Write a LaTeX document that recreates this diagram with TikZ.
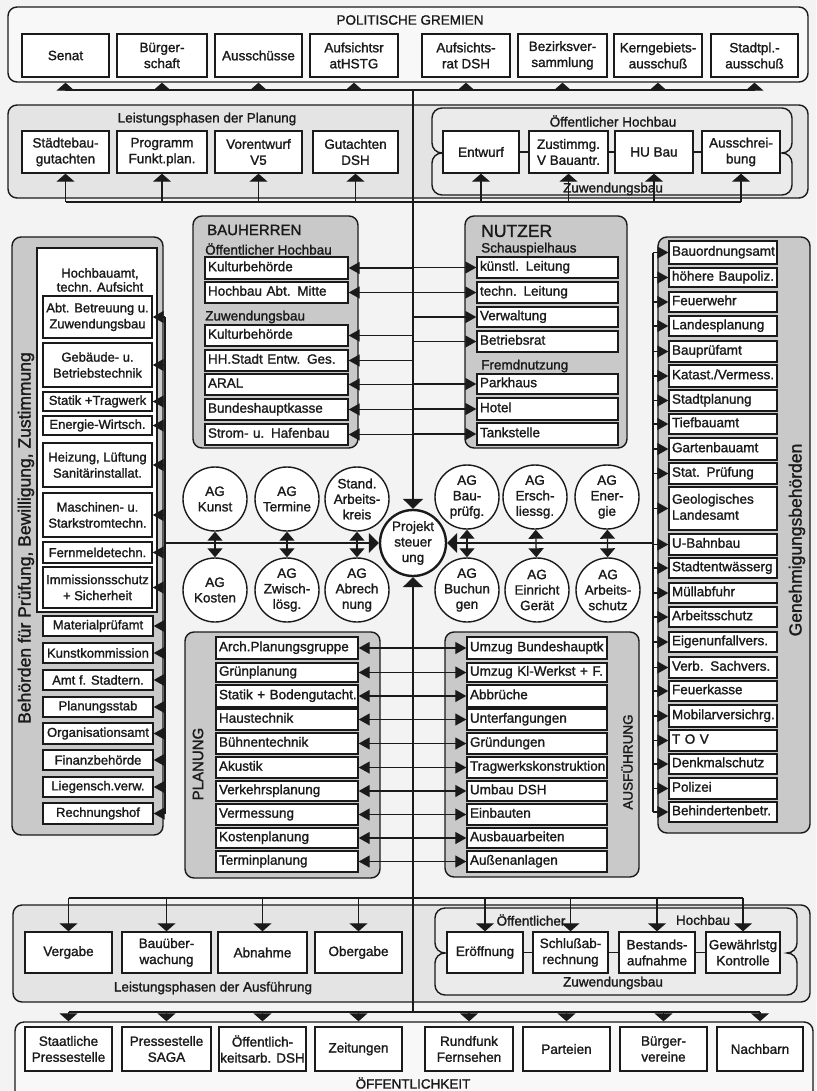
\documentclass[tikz,border=0pt]{standalone}
\usepackage{fontspec}
\setmainfont{Liberation Sans}[FakeBold=1.4]
\usetikzlibrary{arrows.meta}

\definecolor{ink}{HTML}{1A1A1A}
\definecolor{pagebg}{HTML}{F3F3F3}
\definecolor{band}{HTML}{E4E4E4}
\definecolor{innerband}{HTML}{EBEBEB}
\definecolor{shade}{HTML}{C9C9C9}

\newcommand\boxfont{\fontsize{13.5}{16}\selectfont}
\newcommand\colfont{\fontsize{13}{16}\selectfont}
\newcommand\circfont{\fontsize{13.5}{15.5}\selectfont}

% centred box by corners: [options]{name}{x1}{y1}{x2}{y2}{text}
\newcommand\bx[7][]{%
  \pgfmathsetmacro\bxx{(#3+#5)/2}%
  \pgfmathsetmacro\bxy{(#4+#6)/2}%
  \pgfmathsetmacro\bxw{#5-#3}%
  \pgfmathsetmacro\bxh{#6-#4}%
  \node[box,minimum width=\bxw pt,minimum height=\bxh pt,#1] (#2) at (\bxx,\bxy) {#7};}

% left-aligned list entry by corners: [options]{name}{x1}{y1}{x2}{y2}{text}
\newcommand\lbx[7][]{%
  \pgfmathsetmacro\bxx{(#3+#5)/2}%
  \pgfmathsetmacro\bxy{(#4+#6)/2}%
  \pgfmathsetmacro\bxw{#5-#3}%
  \pgfmathsetmacro\bxh{#6-#4}%
  \pgfmathsetmacro\bxt{#5-#3-6}%
  \node[box,align=left,minimum width=\bxw pt,minimum height=\bxh pt,text width=\bxt pt,#1] (#2) at (\bxx,\bxy)
    {\begin{tabular}{@{}l@{}}#7\end{tabular}};}

% empty panel by corners: [options]{name}{x1}{y1}{x2}{y2}
\newcommand\panel[6][]{%
  \pgfmathsetmacro\bxx{(#3+#5)/2}%
  \pgfmathsetmacro\bxy{(#4+#6)/2}%
  \pgfmathsetmacro\bxw{#5-#3}%
  \pgfmathsetmacro\bxh{#6-#4}%
  \node[panelbox,minimum width=\bxw pt,minimum height=\bxh pt,#1] (#2) at (\bxx,\bxy) {};}

% two stacked rounded frames merged into one outline: [options]{L}{T}{R}{M}{B}
\newcommand\notchframe[6][]{%
  \path[#1] (#2+10,#3) -- (#4-10,#3) arc[start angle=270,end angle=360,radius=10]
    -- (#4,#5-10) arc[start angle=0,end angle=90,radius=10] arc[start angle=270,end angle=360,radius=10]
    -- (#4,#6-10) arc[start angle=0,end angle=90,radius=10]
    -- (#2+10,#6) arc[start angle=90,end angle=180,radius=10]
    -- (#2,#5+10) arc[start angle=180,end angle=270,radius=10] arc[start angle=90,end angle=180,radius=10]
    -- (#2,#3+10) arc[start angle=180,end angle=270,radius=10] -- cycle;}

\begin{document}
\begin{tikzpicture}[x=1pt,y=-1pt,
  box/.style={draw=ink, fill=white, line width=1.4pt, inner xsep=2pt, inner ysep=0pt,
    align=center, font=\boxfont, text=ink},
  cbox/.style={font=\colfont},
  panelbox/.style={draw=ink, line width=1.4pt, rounded corners=9pt, inner sep=0pt},
  darkpanel/.style={panelbox, fill=shade},
  lab/.style={font=\boxfont, text=ink, inner sep=0pt},
  circ/.style={circle, draw=ink, fill=white, line width=1.4pt, minimum size=64pt,
    inner sep=-6pt, align=center, font=\circfont, text=ink},
  conn/.style={draw=ink, line width=1.3pt},
  upar/.style={conn, -{Triangle[length=8pt,width=18pt]}},
  sidear/.style={conn, -{Triangle[length=11pt,width=12pt]}},
  dblar/.style={conn, {Triangle[length=9pt,width=15pt]}-{Triangle[length=9pt,width=15pt]}},
  spine/.style={draw=ink, line width=2.4pt},
  spinear/.style={spine, -{Triangle[length=10pt,width=20pt]}}
]
\path[use as bounding box, clip] (0,0) rectangle (816,1091);
\fill[pagebg] (0,0) rectangle (816,1091);

% ---------- frames ----------
\panel[fill=pagebg!60!white]{gremien}{8}{7}{808}{82}
\panel[fill=band]{lpplan}{8}{105}{808}{198}
\notchframe[draw=ink, line width=1.4pt, fill=innerband]{432}{108}{792}{153}{195}
\panel[darkpanel]{bauherren}{193}{216}{358}{448}
\panel[darkpanel]{nutzer}{465}{216}{627}{448}
\panel[darkpanel]{leftcol}{12}{237}{163}{835}
\panel[darkpanel]{rightcol}{658}{237}{810}{833}
\panel[darkpanel]{planung}{185}{632}{380}{878}
\panel[darkpanel]{ausf}{445}{632}{639}{877}
\panel[fill=band]{lpaus}{13}{905}{810}{1002}
\notchframe[draw=ink, line width=1.4pt, fill=innerband]{435}{908}{797}{953}{995}
\panel[fill=pagebg!60!white]{oeff}{15}{1022}{813}{1110}
\panel[fill=white, rounded corners=0pt]{hba}{37}{248}{157}{612}

% ---------- political bodies ----------
\node[lab] (gremtitle) at (410,20) {POLITISCHE GREMIEN};
\bx{senat}{22}{34}{109}{77}{Senat}
\bx{buerg}{117}{34}{207}{77}{Bürger-\\schaft}
\bx{aussch}{215}{34}{302}{77}{Ausschüsse}
\bx{arhstg}{310}{34}{398}{77}{Aufsichtsr\\atHSTG}
\bx{ardsh}{422}{34}{510}{77}{Aufsichts-\\rat DSH}
\bx{bezv}{518}{34}{607}{77}{Bezirksver-\\sammlung}
\bx{kerng}{614}{34}{702}{77}{Kerngebiets-\\ausschuß}
\bx{stadtpl}{711}{34}{798}{77}{Stadtpl.-\\ausschuß}

% ---------- planning phases ----------
\node[lab] (lpptitle) at (207,119) {Leistungsphasen der Planung};
\bx{sgut}{22}{131}{109}{173}{Städtebau-\\gutachten}
\bx{progr}{117}{131}{207}{173}{Programm\\Funkt.plan.}
\bx{vorent}{215}{131}{302}{173}{Vorentwurf\\V5}
\bx{gutdsh}{313}{131}{398}{173}{Gutachten\\DSH}
\node[lab] (ohtop) at (613,121) {Öffentlicher Hochbau};
\node[lab] (zwtop) at (613,189) {Zuwendungsbau};
\bx{entw}{443}{131}{519}{173}{Entwurf}
\bx{zust}{529}{131}{608}{173}{Zustimmg.\\V Bauantr.}
\bx{hubau}{615}{131}{693}{173}{HU Bau}
\bx{ausschr}{702}{131}{780}{173}{Ausschrei-\\bung}
\draw[conn] (entw) -- (zust);
\draw[conn] (zust) -- (hubau);
\draw[conn] (hubau) -- (ausschr);

% ---------- clients ----------
\node[lab, anchor=west, font=\fontsize{15}{17}\selectfont] (bhtitle) at (207,230) {BAUHERREN};
\node[lab, anchor=west] (bhoh) at (205,249) {Öffentlicher Hochbau};
\node[lab, anchor=west] (bhzw) at (205,317) {Zuwendungsbau};
\lbx{bh1}{205}{257}{348}{279}{Kulturbehörde}
\lbx{bh2}{205}{282}{348}{303}{Hochbau Abt. Mitte}
\lbx{bh3}{205}{325}{348}{346}{Kulturbehörde}
\lbx{bh4}{205}{350}{348}{371}{HH.Stadt Entw. Ges.}
\lbx{bh5}{205}{374}{348}{395}{ARAL}
\lbx{bh6}{205}{399}{348}{420}{Bundeshauptkasse}
\lbx{bh7}{205}{424}{348}{445}{Strom- u. Hafenbau}

% ---------- users ----------
\node[lab, anchor=west, font=\fontsize{17.5}{19}\selectfont] (nutitle) at (481,231) {NUTZER};
\node[lab, anchor=west] (nusch) at (481,249) {Schauspielhaus};
\node[lab, anchor=west] (nufremd) at (481,366) {Fremdnutzung};
\lbx{nu1}{477}{257}{618}{278}{künstl. Leitung}
\lbx{nu2}{477}{282}{618}{303}{techn. Leitung}
\lbx{nu3}{477}{307}{618}{327}{Verwaltung}
\lbx{nu4}{477}{331}{618}{352}{Betriebsrat}
\lbx{nu5}{477}{374}{618}{394}{Parkhaus}
\lbx{nu6}{477}{398}{618}{420}{Hotel}
\lbx{nu7}{477}{423}{618}{445}{Tankstelle}

% ---------- approving authorities (left) ----------
\node[lab, rotate=90, font=\fontsize{17.5}{20}\selectfont] (lccap) at (26,538) {Behörden für Prüfung, Bewilligung, Zustimmung};
\node[lab, align=center, font=\fontsize{13}{14}\selectfont] (hbatxt) at (100,280) {Hochbauamt,\\techn. Aufsicht};
\bx[cbox]{lc1}{43}{296}{152}{338}{Abt. Betreuung u.\\Zuwendungsbau}
\bx[cbox]{lc2}{43}{343}{152}{387}{Gebäude- u.\\Betriebstechnik}
\bx[cbox]{lc3}{43}{392}{152}{411}{Statik +Tragwerk}
\bx[cbox]{lc4}{43}{416}{152}{435}{Energie-Wirtsch.}
\bx[cbox]{lc5}{43}{443}{152}{487}{Heizung, Lüftung\\Sanitärinstallat.}
\bx[cbox]{lc6}{43}{493}{152}{537}{Maschinen- u.\\Starkstromtechn.}
\bx[cbox]{lc7}{43}{542}{152}{563}{Fernmeldetechn.}
\bx[cbox]{lc8}{43}{567}{152}{608}{Immissionsschutz\\+ Sicherheit}
\bx[cbox]{lc9}{43}{616}{153}{636}{Materialprüfamt}
\bx[cbox]{lc10}{43}{643}{153}{663}{Kunstkommission}
\bx[cbox]{lc11}{43}{670}{153}{690}{Amt f. Stadtern.}
\bx[cbox]{lc12}{43}{697}{153}{717}{Planungsstab}
\bx[cbox]{lc13}{43}{723}{153}{744}{Organisationsamt}
\bx[cbox]{lc14}{43}{750}{153}{770}{Finanzbehörde}
\bx[cbox]{lc15}{43}{777}{153}{797}{Liegensch.verw.}
\bx[cbox]{lc16}{43}{803}{153}{824}{Rechnungshof}

% ---------- permit authorities (right) ----------
\node[lab, rotate=90, font=\fontsize{17.5}{20}\selectfont] (rccap) at (797,540) {Genehmigungsbehörden};
\lbx{rc1}{669}{241}{777}{264}{Bauordnungsamt}
\lbx{rc2}{669}{268}{777}{287}{höhere Baupoliz.}
\lbx{rc3}{669}{292}{777}{312}{Feuerwehr}
\lbx{rc4}{669}{316}{777}{336}{Landesplanung}
\lbx{rc5}{669}{341}{777}{362}{Bauprüfamt}
\lbx{rc6}{669}{365}{777}{387}{Katast./Vermess.}
\lbx{rc7}{669}{390}{777}{411}{Stadtplanung}
\lbx{rc8}{669}{414}{777}{434}{Tiefbauamt}
\lbx{rc9}{669}{438}{777}{460}{Gartenbauamt}
\lbx{rc10}{669}{463}{777}{484}{Stat. Prüfung}
\lbx{rc11}{669}{487}{777}{530}{Geologisches\\Landesamt}
\lbx{rc12}{669}{534}{777}{555}{U-Bahnbau}
\lbx{rc13}{669}{558}{777}{578}{Stadtentwässerg}
\lbx{rc14}{669}{583}{777}{603}{Müllabfuhr}
\lbx{rc15}{669}{607}{777}{627}{Arbeitsschutz}
\lbx{rc16}{669}{632}{777}{652}{Eigenunfallvers.}
\lbx{rc17}{669}{657}{777}{678}{Verb. Sachvers.}
\lbx{rc18}{669}{681}{777}{701}{Feuerkasse}
\lbx{rc19}{669}{705}{777}{727}{Mobilarversichrg.}
\lbx{rc20}{669}{730}{777}{751}{T O V}
\lbx{rc21}{669}{754}{777}{774}{Denkmalschutz}
\lbx{rc22}{669}{778}{777}{799}{Polizei}
\lbx{rc23}{669}{802}{777}{822}{Behindertenbetr.}

% ---------- planning ----------
\node[lab, rotate=90, font=\fontsize{15}{17}\selectfont] (plcap) at (198,764) {PLANUNG};
\lbx{pl1}{216}{637}{358}{659}{Arch.Planungsgruppe}
\lbx{pl2}{216}{663}{358}{682}{Grünplanung}
\lbx{pl3}{216}{685}{358}{707}{Statik + Bodengutacht.}
\lbx{pl4}{216}{709}{358}{730}{Haustechnik}
\lbx{pl5}{216}{733}{358}{754}{Bühnentechnik}
\lbx{pl6}{216}{757}{358}{778}{Akustik}
\lbx{pl7}{216}{781}{358}{801}{Verkehrsplanung}
\lbx{pl8}{216}{804}{358}{825}{Vermessung}
\lbx{pl9}{216}{828}{358}{848}{Kostenplanung}
\lbx{pl10}{216}{851}{358}{872}{Terminplanung}

% ---------- execution ----------
\node[lab, rotate=90, font=\fontsize{13.5}{15}\selectfont] (aucap) at (627,762) {AUSFÜHRUNG};
\lbx{au1}{467}{637}{607}{659}{Umzug Bundeshauptk}
\lbx{au2}{467}{663}{607}{682}{Umzug Kl-Werkst + F.}
\lbx{au3}{467}{685}{607}{707}{Abbrüche}
\lbx{au4}{467}{709}{607}{730}{Unterfangungen}
\lbx{au5}{467}{733}{607}{754}{Gründungen}
\lbx{au6}{467}{757}{607}{778}{Tragwerkskonstruktion}
\lbx{au7}{467}{781}{607}{801}{Umbau DSH}
\lbx{au8}{467}{804}{607}{825}{Einbauten}
\lbx{au9}{467}{828}{607}{848}{Ausbauarbeiten}
\lbx{au10}{467}{851}{607}{872}{Außenanlagen}

% ---------- working groups and project control ----------
\node[circ] (ag1) at (215,499) {AG\\Kunst};
\node[circ] (ag2) at (287,499) {AG\\Termine};
\node[circ] (ag3) at (357,499) {Stand.\\Arbeits-\\kreis};
\node[circ] (ag4) at (215,590) {AG\\Kosten};
\node[circ] (ag5) at (287,590) {AG\\Zwisch-\\lösg.};
\node[circ] (ag6) at (357,590) {AG\\Abrech\\nung};
\node[circ] (ag7) at (467,497) {AG\\Bau-\\prüfg.};
\node[circ] (ag8) at (535,497) {AG\\Ersch-\\liessg.};
\node[circ] (ag9) at (607,497) {AG\\Ener-\\gie};
\node[circ] (ag10) at (467,590) {AG\\Buchun\\gen};
\node[circ] (ag11) at (537,590) {AG\\Einricht\\Gerät};
\node[circ] (ag12) at (608,590) {AG\\Arbeits-\\schutz};
\node[circ, line width=2.4pt, minimum size=66pt] (proj) at (413,543) {Projekt\\steuer\\ung};

% ---------- execution phases ----------
\node[lab] (lpatitle) at (213,988) {Leistungsphasen der Ausführung};
\bx{vergabe}{25}{932}{112}{973}{Vergabe}
\bx{bauueb}{122}{932}{211}{973}{Bauüber-\\wachung}
\bx{abnahme}{218}{932}{307}{973}{Abnahme}
\bx{uebergabe}{315}{932}{402}{973}{Obergabe}
\node[lab] (ohbot1) at (531,920) {Öffentlicher};
\node[lab] (ohbot2) at (703,920) {Hochbau};
\node[lab] (zwbot) at (613,983) {Zuwendungsbau};
\bx{eroeff}{447}{932}{523}{973}{Eröffnung}
\bx{schluss}{533}{932}{608}{973}{Schlußab-\\rechnung}
\bx{bestand}{619}{932}{695}{973}{Bestands-\\aufnahme}
\bx{gewaehr}{706}{932}{780}{973}{Gewährlstg\\Kontrolle}
\draw[conn] (eroeff) -- (schluss);
\draw[conn] (schluss) -- (bestand);
\draw[conn] (bestand) -- (gewaehr);

% ---------- public ----------
\node[lab] (oefftitle) at (413,1083) {ÖFFENTLICHKEIT};
\bx{staatl}{25}{1027}{112}{1071}{Staatliche\\Pressestelle}
\bx{pssaga}{122}{1027}{211}{1071}{Pressestelle\\SAGA}
\bx[inner xsep=0.5pt]{oeffarb}{219}{1027}{306}{1071}{Öffentlich-\\keitsarb. DSH}
\bx{zeit}{315}{1027}{402}{1071}{Zeitungen}
\bx{rundf}{425}{1027}{513}{1071}{Rundfunk\\Fernsehen}
\bx{parteien}{523}{1027}{610}{1071}{Parteien}
\bx{buergerv}{620}{1027}{707}{1071}{Bürger-\\vereine}
\bx{nachbarn}{717}{1027}{803}{1071}{Nachbarn}

% ---------- bus coordinates ----------
\coordinate (topbus) at (413,90);
\coordinate (planbus) at (413,202);
\coordinate (ausbus) at (413,898);
\coordinate (offbus) at (413,1012);
\coordinate (lbus) at (165,543);
\coordinate (rbus) at (653,543);

% top bus to the political bodies
\draw[conn] (senat |- topbus) -- (stadtpl |- topbus);
\foreach \n in {senat,buerg,aussch,arhstg,ardsh,bezv,kerng,stadtpl}
  \draw[upar] (\n |- topbus) -- (\n |- gremien.south);

% planning phases bus
\draw[conn] (sgut |- planbus) -- (ausschr |- planbus);
\foreach \n in {sgut,progr,vorent,gutdsh,entw,zust,hubau,ausschr}
  \draw[upar] (\n |- planbus) -- (\n.south);

% execution phases bus
\draw[conn] (vergabe |- ausbus) -- (gewaehr |- ausbus);
\foreach \n in {vergabe,bauueb,abnahme,uebergabe,eroeff,schluss,bestand,gewaehr}
  \draw[upar] (\n |- ausbus) -- (\n.north);

% public bus
\draw[conn] (staatl |- offbus) -- (nachbarn |- offbus);
\foreach \n in {staatl,pssaga,oeffarb,zeit,rundf,parteien,buergerv,nachbarn}
  \draw[upar] (\n |- offbus) -- (\n |- oeff.north);

% main spine
\draw[spinear] (topbus) -- (proj);
\draw[spinear] (offbus) -- (proj);

% clients and planners (left of spine)
\foreach \i in {1,...,7}
  \draw[sidear] (bh\i.east -| topbus) -- (bh\i.east);
\foreach \i in {1,...,10}
  \draw[sidear] (pl\i.east -| topbus) -- (pl\i.east);
% users and execution (right of spine)
\foreach \i in {1,...,7}
  \draw[sidear] (nu\i.west -| topbus) -- (nu\i.west);
\foreach \i in {1,...,10}
  \draw[sidear] (au\i.west -| topbus) -- (au\i.west);

% left authorities bus
\draw[conn] (lc1.east -| lbus) -- (lc16.east -| lbus);
\foreach \i in {1,...,16}
  \draw[sidear] (lc\i.east -| lbus) -- (lc\i.east);
\draw[spinear, line width=1.8pt] (lbus) -- (proj);

% right authorities bus
\draw[conn] (rc1.west -| rbus) -- (rc23.west -| rbus);
\foreach \i in {1,...,23}
  \draw[sidear] (rc\i.west -| rbus) -- (rc\i.west);
\draw[spinear, line width=1.8pt] (rbus) -- (proj);

% working group pairs
\draw[dblar] (ag1) -- (ag4);
\draw[dblar] (ag2) -- (ag5);
\draw[dblar] (ag3) -- (ag6);
\draw[dblar] (ag7) -- (ag10);
\draw[dblar] (ag8) -- (ag11);
\draw[dblar] (ag9) -- (ag12);
\end{tikzpicture}
\end{document}
